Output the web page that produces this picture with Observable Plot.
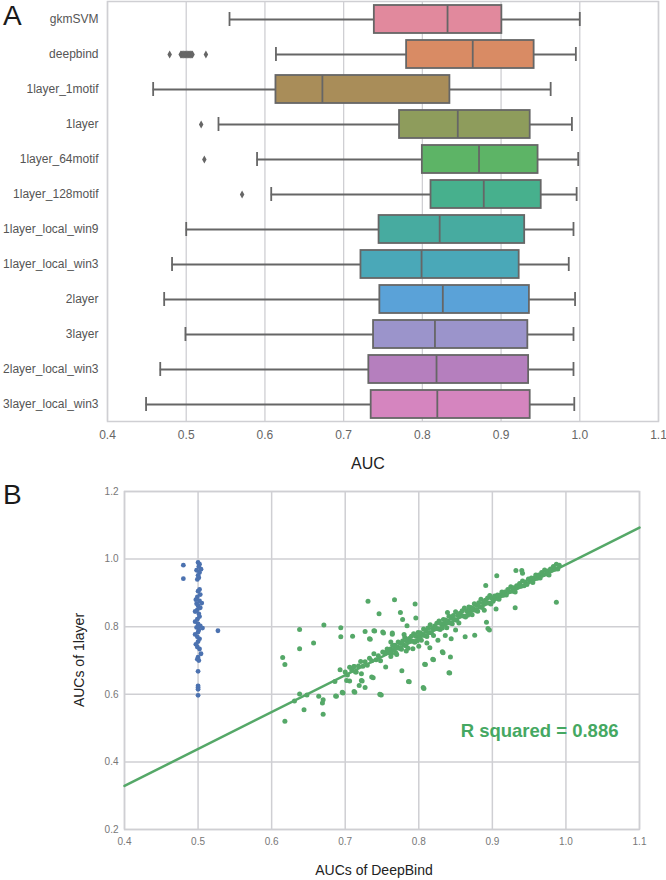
<!DOCTYPE html>
<html>
<head>
<meta charset="utf-8">
<script src="https://cdn.jsdelivr.net/npm/d3@7"></script>
<script src="https://cdn.jsdelivr.net/npm/@observablehq/plot@0.6"></script>
<style>
  body { margin: 0; background: #fff; }
  #wrap { position: relative; width: 666px; height: 880px; background: #fff; font-family: "Liberation Sans", Arial, Helvetica, sans-serif; overflow: hidden; }
  .abs { position: absolute; white-space: nowrap; }
  .panel { position: absolute; left: 0; }
  .plab { font-size: 28px; color: #1a1a1a; line-height: 1; }
</style>
</head>
<body>
<div id="wrap">
  <div id="plotA" class="panel" style="top:0"></div>
  <div id="plotB" class="panel" style="top:480px"></div>
  <div class="abs plab" style="left:3px; top:2px;">A</div>
  <div class="abs plab" style="left:3px; top:481px;">B</div>
  <div class="abs" style="left:368px; top:455px; transform:translateX(-50%); font-size:16px; color:#222;">AUC</div>
  <div class="abs" style="left:374px; top:862px; transform:translateX(-50%); font-size:14px; color:#222;">AUCs of DeepBind</div>
  <div class="abs" style="left:79px; top:660px; transform:translate(-50%,-50%) rotate(-90deg); font-size:14px; color:#222;">AUCs of 1layer</div>
</div>
<script>
// ---------- Panel A data ----------
const categories = ["gkmSVM","deepbind","1layer_1motif","1layer","1layer_64motif","1layer_128motif","1layer_local_win9","1layer_local_win3","2layer","3layer","2layer_local_win3","3layer_local_win3"];
const whiskerLow  = [0.555,0.614,0.458,0.541,0.590,0.608,0.500,0.482,0.472,0.499,0.467,0.449];
const q1          = [0.739,0.780,0.614,0.771,0.800,0.811,0.745,0.722,0.746,0.738,0.732,0.735];
const median      = [0.832,0.864,0.673,0.845,0.872,0.878,0.822,0.799,0.826,0.816,0.818,0.819];
const q3          = [0.901,0.942,0.835,0.937,0.947,0.951,0.930,0.923,0.936,0.934,0.935,0.937];
const whiskerHigh = [1.000,0.995,0.963,0.990,0.998,0.996,0.992,0.986,0.994,0.992,0.992,0.993];
const boxColors   = ["#e1899d","#d98b64","#a98d59","#8e9c5c","#5db466","#47b08d","#47aba0","#4aa8b8","#5aa2d8","#9b94cb","#b57fbe","#d585bf"];
const outlierCategory = ["deepbind","deepbind","deepbind","deepbind","deepbind","deepbind","deepbind","deepbind","deepbind","deepbind","deepbind","deepbind","deepbind","deepbind","deepbind","deepbind","deepbind","deepbind","1layer","1layer_64motif","1layer_128motif"];
const outlierValue    = [0.479,0.493,0.494,0.495,0.496,0.497,0.498,0.499,0.500,0.501,0.502,0.503,0.504,0.505,0.506,0.507,0.508,0.525,0.519,0.523,0.571];
const xTicksA = [0.4,0.5,0.6,0.7,0.8,0.9,1.0,1.1];

// ---------- Panel B data ----------
const blueX = [0.480,0.480,0.527,0.500,0.502,0.501,0.504,0.498,0.502,0.500,0.501,0.499,0.502,0.500,0.503,0.499,0.497,0.502,0.505,0.498,0.500,0.503,0.499,0.496,0.501,0.502,0.499,0.496,0.500,0.503,0.498,0.506,0.501,0.500,0.496,0.499,0.502,0.500,0.497,0.499,0.502,0.504,0.500,0.499,0.501,0.500,0.500,0.500,0.500,0.500];
const blueY = [0.982,0.942,0.788,0.990,0.985,0.978,0.970,0.967,0.960,0.952,0.945,0.940,0.910,0.905,0.895,0.888,0.880,0.876,0.870,0.868,0.862,0.856,0.850,0.845,0.838,0.830,0.822,0.815,0.808,0.802,0.798,0.796,0.790,0.784,0.777,0.770,0.764,0.756,0.748,0.740,0.734,0.720,0.710,0.704,0.700,0.668,0.625,0.620,0.615,0.597];

const greenPoints = [
 // scattered points off the main band
 [0.615,0.709],[0.618,0.688],[0.618,0.520],[0.631,0.580],[0.638,0.601],[0.638,0.735],[0.638,0.792],[0.644,0.554],[0.648,0.598],[0.657,0.752],
 [0.664,0.594],[0.669,0.574],[0.670,0.584],[0.670,0.541],[0.671,0.805],[0.686,0.638],[0.688,0.594],[0.687,0.595],[0.693,0.673],[0.694,0.797],
 [0.694,0.770],[0.696,0.606],[0.697,0.604],[0.702,0.641],[0.706,0.639],[0.710,0.772],[0.712,0.682],[0.712,0.608],[0.713,0.606],[0.714,0.666],
 [0.719,0.626],[0.722,0.661],[0.722,0.641],[0.723,0.639],[0.727,0.620],[0.727,0.786],[0.731,0.875],[0.734,0.763],[0.738,0.649],[0.740,0.787],
 [0.746,0.838],[0.748,0.599],[0.749,0.598],[0.752,0.781],[0.755,0.681],[0.747,0.600],[0.736,0.651],[0.764,0.778],[0.767,0.880],[0.775,0.842],
 [0.777,0.670],[0.778,0.821],[0.784,0.803],[0.786,0.638],[0.787,0.637],[0.795,0.867],[0.796,0.826],[0.806,0.620],[0.807,0.617],[0.809,0.688],
 [0.808,0.689],[0.815,0.738],[0.819,0.704],[0.820,0.702],[0.832,0.726],[0.833,0.723],[0.839,0.842],[0.841,0.664],[0.842,0.663],[0.843,0.710],
 [0.844,0.764],[0.863,0.770],[0.876,0.775],[0.891,0.922],[0.894,0.795],[0.892,0.813],[0.896,0.790],[0.905,0.852],[0.906,0.951],[0.931,0.856],
 [0.932,0.966],[0.940,0.966],[0.941,0.958],[0.987,0.872],[0.739,0.788],[0.751,0.784],[0.764,0.781],[0.780,0.777],[0.762,0.755],[0.733,0.764],
 [0.755,0.724],[0.762,0.712],[0.770,0.718],[0.783,0.728],[0.792,0.735],[0.800,0.742],[0.811,0.752],[0.826,0.760],[0.836,0.774],[0.850,0.790],
 // main band, lower part
 [0.700,0.666],[0.703,0.657],[0.706,0.680],[0.709,0.671],[0.712,0.682],[0.715,0.666],[0.718,0.684],[0.721,0.697],[0.724,0.683],[0.727,0.696],
 [0.730,0.686],[0.733,0.707],[0.736,0.699],[0.739,0.720],[0.742,0.702],[0.745,0.714],[0.748,0.699],[0.751,0.725],[0.754,0.721],[0.757,0.734],
 [0.760,0.723],
 // main band, dense middle
 [0.7615,0.734],[0.7630,0.721],[0.7645,0.745],[0.7660,0.733],[0.7675,0.745],[0.7690,0.722],[0.7705,0.741],[0.7720,0.755],[0.7735,0.736],[0.7750,0.750],
 [0.7765,0.733],[0.7780,0.758],[0.7795,0.746],[0.7810,0.768],[0.7825,0.744],[0.7840,0.758],[0.7855,0.736],[0.7870,0.765],[0.7885,0.758],[0.7900,0.772],
 [0.7915,0.757],[0.7930,0.779],[0.7945,0.754],[0.7960,0.772],[0.7975,0.758],[0.7990,0.783],[0.8005,0.771],[0.8020,0.782],[0.8035,0.760],[0.8050,0.778],
 [0.8065,0.793],[0.8080,0.774],[0.8095,0.787],[0.8110,0.771],[0.8125,0.796],[0.8140,0.783],[0.8155,0.806],[0.8170,0.782],[0.8185,0.795],[0.8200,0.774],
 [0.8215,0.802],[0.8230,0.796],[0.8245,0.810],[0.8260,0.794],[0.8275,0.817],[0.8290,0.792],[0.8305,0.809],[0.8320,0.796],[0.8335,0.821],[0.8350,0.808],
 [0.8365,0.820],[0.8380,0.797],[0.8395,0.816],[0.8410,0.831],[0.8425,0.811],[0.8440,0.825],[0.8455,0.809],[0.8470,0.833],[0.8485,0.821],[0.8500,0.844],
 [0.8515,0.819],[0.8530,0.833],[0.8545,0.811],[0.8560,0.840],[0.8575,0.834],[0.8590,0.847],[0.8605,0.832],[0.8620,0.855],[0.8635,0.829],[0.8650,0.847],
 [0.8665,0.834],[0.8680,0.858],[0.8695,0.846],[0.8710,0.857],[0.8725,0.835],[0.8740,0.854],[0.8755,0.868],[0.8770,0.849],[0.8785,0.863],[0.8800,0.846],
 [0.8815,0.871],[0.8830,0.859],[0.8845,0.881],[0.8860,0.857],[0.8875,0.870],[0.8890,0.849],[0.8905,0.878],[0.8920,0.871],[0.8935,0.885],[0.8950,0.870],
 [0.8965,0.892],[0.8980,0.867],[0.8995,0.884],
 // main band, upper part
 [0.901,0.875],[0.903,0.891],[0.905,0.885],[0.907,0.894],[0.909,0.881],[0.911,0.894],[0.913,0.903],[0.915,0.893],[0.917,0.903],[0.919,0.894],
 [0.921,0.910],[0.923,0.904],[0.925,0.918],[0.927,0.905],[0.929,0.915],[0.931,0.903],[0.933,0.921],[0.935,0.918],[0.937,0.928],[0.939,0.920],
 [0.941,0.935],[0.943,0.921],[0.945,0.932],[0.947,0.925],[0.949,0.941],[0.951,0.936],[0.953,0.944],[0.955,0.931],[0.957,0.944],[0.959,0.953],
 [0.961,0.943],[0.963,0.953],[0.965,0.944],[0.967,0.960],[0.969,0.954],[0.971,0.968],[0.973,0.956],[0.975,0.965],[0.977,0.953],[0.979,0.971],
 [0.981,0.968],[0.983,0.978],[0.985,0.970],[0.987,0.985],[0.989,0.971],[0.991,0.982]
];
const fitX = [0.4, 1.1];
const fitY = [0.329, 1.093];
const rSquaredLabel = "R squared = 0.886";
const xTicksB = [0.4,0.5,0.6,0.7,0.8,0.9,1.0,1.1];
const yTicksB = [0.2,0.4,0.6,0.8,1.0,1.2];

// ---------- build tables ----------
const boxes = categories.map((c, i) => ({cat: c, low: whiskerLow[i], q1: q1[i], med: median[i], q3: q3[i], high: whiskerHigh[i], color: boxColors[i]}));
const outliers = outlierCategory.map((c, i) => ({cat: c, v: outlierValue[i]}));
const blue = blueX.map((x, i) => ({x, y: blueY[i]}));
const green = greenPoints.map(([x, y]) => ({x, y}));
const fit = fitX.map((x, i) => ({x, y: fitY[i]}));

const FONT = '"Liberation Sans", Arial, Helvetica, sans-serif';
const EDGE = "#666666";
const GRID = "#cfcfd3";

const thinDiamond = {
  draw(ctx, size) {
    const s = Math.sqrt(size / Math.PI);
    ctx.moveTo(0, -s * 1.35);
    ctx.lineTo(s * 0.75, 0);
    ctx.lineTo(0, s * 1.35);
    ctx.lineTo(-s * 0.75, 0);
    ctx.closePath();
  }
};

const plotA = Plot.plot({
  width: 666,
  height: 480,
  marginLeft: 107,
  marginRight: 8,
  marginTop: 1,
  marginBottom: 59,
  style: {fontFamily: FONT, background: "transparent"},
  x: {domain: [0.4, 1.1]},
  y: {type: "band", domain: categories, paddingInner: 0.2, paddingOuter: 0.1},
  color: {type: "identity"},
  marks: [
    Plot.gridX(xTicksA, {stroke: GRID, strokeOpacity: 1, strokeWidth: 1.3}),
    Plot.frame({stroke: GRID, strokeWidth: 1.5}),
    Plot.axisX(xTicksA, {tickSize: 0, tickPadding: 9, tickFormat: d3.format(".1f"), fontSize: 12, fill: "#666", label: null}),
    Plot.axisY({tickSize: 0, tickPadding: 9, fontSize: 12, fill: "#555", label: null}),
    Plot.ruleY(boxes, {y: "cat", x1: "low", x2: "q1", stroke: EDGE, strokeWidth: 1.8}),
    Plot.ruleY(boxes, {y: "cat", x1: "q3", x2: "high", stroke: EDGE, strokeWidth: 1.8}),
    Plot.tickX(boxes, {y: "cat", x: "low", stroke: EDGE, strokeWidth: 1.8, insetTop: 7, insetBottom: 7}),
    Plot.tickX(boxes, {y: "cat", x: "high", stroke: EDGE, strokeWidth: 1.8, insetTop: 7, insetBottom: 7}),
    Plot.barX(boxes, {y: "cat", x1: "q1", x2: "q3", fill: "color", stroke: EDGE, strokeWidth: 1.8}),
    Plot.tickX(boxes, {y: "cat", x: "med", stroke: EDGE, strokeWidth: 1.8}),
    Plot.dot(outliers, {y: "cat", x: "v", r: 3, symbol: thinDiamond, fill: EDGE, stroke: "none"})
  ]
});
document.getElementById("plotA").appendChild(plotA);

const plotB = Plot.plot({
  width: 666,
  height: 400,
  marginLeft: 124,
  marginRight: 27,
  marginTop: 11,
  marginBottom: 51,
  style: {fontFamily: FONT, background: "transparent"},
  x: {domain: [0.4, 1.1]},
  y: {domain: [0.2, 1.2]},
  marks: [
    Plot.gridX(xTicksB, {stroke: GRID, strokeOpacity: 1, strokeWidth: 1.5}),
    Plot.gridY(yTicksB, {stroke: GRID, strokeOpacity: 1, strokeWidth: 1.5}),
    Plot.frame({stroke: GRID, strokeWidth: 1.5}),
    Plot.axisX(xTicksB, {tickSize: 0, tickPadding: 8, tickFormat: d3.format(".1f"), fontSize: 10, fill: "#777", label: null}),
    Plot.axisY(yTicksB, {tickSize: 0, tickPadding: 6, tickFormat: d3.format(".1f"), fontSize: 10, fill: "#777", label: null}),
    Plot.dot(blue, {x: "x", y: "y", r: 2.4, fill: "#4c72b0", stroke: "none"}),
    Plot.dot(green, {x: "x", y: "y", r: 2.5, fill: "#55a868", stroke: "none"}),
    Plot.line(fit, {x: "x", y: "y", stroke: "#55a868", strokeWidth: 2.5}),
    Plot.text([rSquaredLabel], {frameAnchor: "bottom-right", text: d => d, textAnchor: "end", lineAnchor: "middle", dx: -21, dy: -98, fontSize: 18.5, fontWeight: "bold", fill: "#45a862"})
  ]
});
document.getElementById("plotB").appendChild(plotB);
</script>
</body>
</html>
